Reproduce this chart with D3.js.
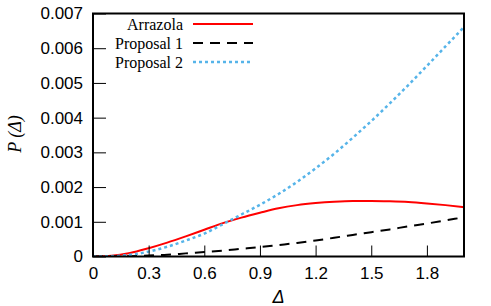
<!DOCTYPE html>
<html><head><meta charset="utf-8">
<script src="https://cdn.jsdelivr.net/npm/d3@7"></script>
<style>body{margin:0;background:#fff}svg{display:block}</style>
</head><body>
<script>
const deltas = [0,0.1,0.2,0.3,0.4,0.5,0.6,0.7,0.8,0.9,1.0,1.1,1.2,1.3,1.4,1.5,1.6,1.7,1.8,1.9,2.0];
const arrazola = [0,0.00002,0.0001,0.00024,0.0004,0.00058,0.00077,0.00096,0.00112,0.00126,0.00139,0.00148,0.00154,0.00158,0.0016,0.0016,0.00159,0.00157,0.00153,0.00148,0.00142];
const proposal1 = [0,0.000002,0.00001,0.00003,0.00005,0.00009,0.00013,0.00017,0.00022,0.00027,0.00033,0.00039,0.00046,0.00054,0.00062,0.0007,0.00078,0.00087,0.00095,0.00104,0.00113];
const proposal2 = [0,0.00001,0.00005,0.00014,0.00028,0.00046,0.00066,0.00093,0.00121,0.00149,0.0018,0.00215,0.00254,0.00296,0.00342,0.0039,0.00441,0.00494,0.00549,0.00605,0.00661];
const seriesNames = ["Arrazola","Proposal 1","Proposal 2"];
const xTicks = [0,0.3,0.6,0.9,1.2,1.5,1.8];
const yTicks = [0,0.001,0.002,0.003,0.004,0.005,0.006,0.007];

const W=491,H=306;
const m={l:93,r:27,t:13.5,b:49.5};
const svg=d3.select("body").append("svg").attr("width",W).attr("height",H);
const x=d3.scaleLinear().domain([0,2]).range([m.l,W-m.r]);
const y=d3.scaleLinear().domain([0,0.007]).range([H-m.b,m.t]);

const styles=[
 {color:"#ff0000",dash:null,w:2},
 {color:"#000000",dash:"10,7",w:2},
 {color:"#56b4e9",dash:"3,3",w:2.5}
];
const data=[arrazola,proposal1,proposal2];

const clip=svg.append("clipPath").attr("id","c").append("rect")
 .attr("x",m.l).attr("y",m.t).attr("width",W-m.r-m.l).attr("height",H-m.b-m.t);

const line=d3.line().x((d,i)=>x(deltas[i])).y(d=>y(d)).curve(d3.curveMonotoneX);
const g=svg.append("g").attr("clip-path","url(#c)");
data.forEach((s,k)=>{
 g.append("path").datum(s).attr("d",line).attr("fill","none")
  .attr("stroke",styles[k].color).attr("stroke-width",styles[k].w)
  .attr("stroke-dasharray",styles[k].dash);
});

// axes with inward ticks
const xa=d3.axisBottom(x).tickValues(xTicks).tickSize(-11).tickPadding(15).tickFormat(d=>d3.format("")(d));
const ya=d3.axisLeft(y).tickValues(yTicks).tickSize(-13).tickPadding(24).tickFormat(d=>d===0?"0":d3.format(".3f")(d));
const gx=svg.append("g").attr("transform",`translate(0,${H-m.b})`).call(xa);
const gy=svg.append("g").attr("transform",`translate(${m.l},0)`).call(ya);
[gx,gy].forEach(a=>{
 a.select(".domain").remove();
 a.selectAll(".tick line").attr("stroke","#000").attr("stroke-width",1);
 a.selectAll("text").attr("font-family","Liberation Sans, Arial, sans-serif").attr("font-size",17).attr("fill","#000");
});
gy.selectAll("text").attr("x",-10);
gx.selectAll("text").attr("dy","0.71em").attr("y",10);

// frame
svg.append("rect").attr("x",m.l).attr("y",m.t).attr("width",W-m.r-m.l).attr("height",H-m.b-m.t)
 .attr("fill","none").attr("stroke","#000").attr("stroke-width",2);

// labels
svg.append("text").attr("x",x(1)).attr("y",303).attr("text-anchor","middle")
 .attr("font-family","Liberation Sans, Arial, sans-serif").attr("font-style","italic").attr("font-size",18).text("Δ");
svg.append("text").attr("transform","translate(21,134) rotate(-90)").attr("text-anchor","middle")
 .attr("font-family","Liberation Serif, Times New Roman, serif").attr("font-style","italic").attr("font-size",18).text("P (Δ)");

// legend
const lg=svg.append("g");
seriesNames.forEach((n,k)=>{
 const yy=24+k*19;
 lg.append("text").attr("x",183).attr("y",yy).attr("dy","0.35em").attr("text-anchor","end")
  .attr("font-family","Liberation Serif, Times New Roman, serif").attr("font-size",16).text(n);
 lg.append("line").attr("x1",193).attr("x2",253).attr("y1",yy).attr("y2",yy)
  .attr("stroke",styles[k].color).attr("stroke-width",styles[k].w).attr("stroke-dasharray",styles[k].dash);
});
</script>
</body></html>
